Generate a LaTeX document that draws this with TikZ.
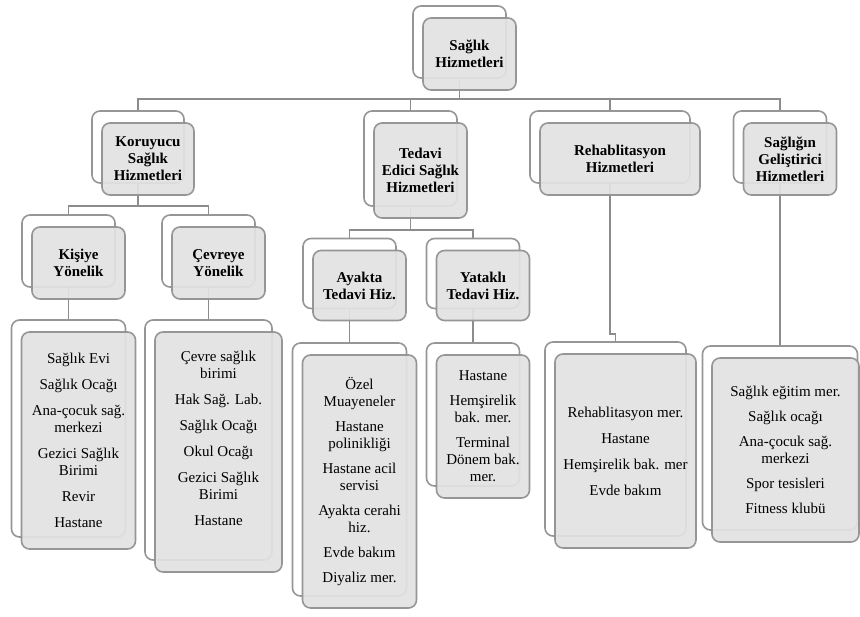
\documentclass[tikz,border=0pt]{standalone}
\usepackage{fontspec}
\setmainfont{Liberation Serif}
\usepackage{tikz}
\definecolor{boxline}{RGB}{150,150,150}
\definecolor{boxfill}{RGB}{226,226,226}
\definecolor{linkgray}{RGB}{140,140,140}
\tikzset{
  backbox/.style={draw=boxline, line width=1.6pt, fill=white, rounded corners=8pt, inner sep=0pt},
  frontbox/.style={draw=boxline, line width=1.6pt, fill=boxfill, fill opacity=0.92, text opacity=1, rounded corners=8pt, inner sep=0pt, align=center},
  headbox/.style={frontbox, font=\fontsize{15}{17}\selectfont\bfseries},
  listbox/.style={frontbox, font=\fontsize{15}{17}\selectfont},
  link/.style={draw=linkgray, line width=1.6pt},
  sz/.style 2 args={minimum width=#1pt, minimum height=#2pt}
}

\begin{document}
\begin{tikzpicture}[x=1pt, y=-1pt]
\useasboundingbox (0,0) rectangle (860,617);
% back boxes
\node[backbox, sz={93}{72}] (rootB) at (459.5,42) {};
\node[backbox, sz={92}{72}] (korB) at (138,147) {};
\node[backbox, sz={93}{95}] (tedB) at (410.5,158.5) {};
\node[backbox, sz={160}{72}] (rehB) at (610,147) {};
\node[backbox, sz={93}{72}] (gelB) at (780,147) {};
\node[backbox, sz={93}{72}] (kisB) at (68.5,251) {};
\node[backbox, sz={93}{72}] (cevB) at (208.5,251) {};
\node[backbox, sz={93}{70}] (ayaB) at (349.5,273.5) {};
\node[backbox, sz={93}{70}] (yatB) at (473,273.5) {};
\node[backbox, sz={114}{217}] (kisLB) at (68.5,428.5) {};
\node[backbox, sz={127}{240}] (cevLB) at (208.5,440) {};
\node[backbox, sz={114}{253}] (ayaLB) at (349.5,469.5) {};
\node[backbox, sz={93}{143}] (yatLB) at (473,414.5) {};
\node[backbox, sz={141}{194}] (rehLB) at (615.5,439) {};
\node[backbox, sz={155}{184}] (gelLB) at (780,438) {};
% connectors
\draw[link] (rootB.south) -- ++(0,20) coordinate (bus0);
\foreach \c in {korB,tedB,rehB,gelB}
  \draw[link] (bus0) -| (\c.north);
\draw[link] (korB.south) -- ++(0,22) coordinate (bus1);
\foreach \c in {kisB,cevB}
  \draw[link] (bus1) -| (\c.north);
\draw[link] (tedB.south) -- ++(0,23) coordinate (bus2);
\foreach \c in {ayaB,yatB}
  \draw[link] (bus2) -| (\c.north);
\draw[link] (kisB.south) -- (kisLB.north);
\draw[link] (cevB.south) -- (cevLB.north);
\draw[link] (ayaB.south) -- (ayaLB.north);
\draw[link] (yatB.south) -- (yatLB.north);
\draw[link] (rehB.south) -- ++(0,150) -| (rehLB.north);
\draw[link] (gelB.south) -- (gelLB.north);
% front boxes
\node[headbox, sz={93}{72}] (root) at (469.5,54) {Sağlık\\ Hizmetleri};
\node[headbox, sz={92}{72}] (kor) at (148,159) {Koruyucu\\ Sağlık\\ Hizmetleri};
\node[headbox, sz={93}{95}] (ted) at (420.5,170.5) {Tedavi\\ Edici Sağlık\\ Hizmetleri};
\node[headbox, sz={160}{72}] (reh) at (620,159) {Rehablitasyon\\ Hizmetleri};
\node[headbox, sz={93}{72}] (gel) at (790,159) {Sağlığın\\ Geliştirici\\ Hizmetleri};
\node[headbox, sz={93}{72}] (kis) at (78.5,263) {Kişiye\\ Yönelik};
\node[headbox, sz={93}{72}] (cev) at (218.5,263) {Çevreye\\ Yönelik};
\node[headbox, sz={93}{70}] (aya) at (359.5,285.5) {Ayakta\\ Tedavi Hiz.};
\node[headbox, sz={93}{70}] (yat) at (483,285.5) {Yataklı\\ Tedavi Hiz.};
\node[listbox, sz={114}{217}] (kisL) at (78.5,440.5)
  {Sağlık Evi\\[9pt] Sağlık Ocağı\\[9pt] Ana-çocuk sağ.\\ merkezi\\[9pt] Gezici Sağlık\\ Birimi\\[9pt] Revir\\[9pt] Hastane};
\node[listbox, sz={127}{240}] (cevL) at (218.5,452)
  {Çevre sağlık\\ birimi\\[9pt] Hak Sağ. Lab.\\[9pt] Sağlık Ocağı\\[9pt] Okul Ocağı\\[9pt] Gezici Sağlık\\ Birimi\\[9pt] Hastane\\[11pt]\mbox{}};
\node[listbox, sz={114}{253}] (ayaL) at (359.5,481.5)
  {Özel\\ Muayeneler\\[8pt] Hastane\\ polinikliği\\[8pt] Hastane acil\\ servisi\\[8pt] Ayakta cerahi\\ hiz.\\[8pt] Evde bakım\\[8pt] Diyaliz mer.};
\node[listbox, sz={93}{143}] (yatL) at (483,426.5)
  {Hastane\\[8pt] Hemşirelik\\ bak. mer.\\[8pt] Terminal\\ Dönem bak.\\ mer.};
\node[listbox, sz={141}{194}] (rehL) at (625.5,451)
  {Rehablitasyon mer.\\[9pt] Hastane\\[9pt] Hemşirelik bak. mer\\[9pt] Evde bakım};
\node[listbox, sz={147}{184}] (gelL) at (785.5,450)
  {Sağlık eğitim mer.\\[8pt] Sağlık ocağı\\[8pt] Ana-çocuk sağ.\\ merkezi\\[8pt] Spor tesisleri\\[8pt] Fitness klubü};
\end{tikzpicture}
\end{document}
